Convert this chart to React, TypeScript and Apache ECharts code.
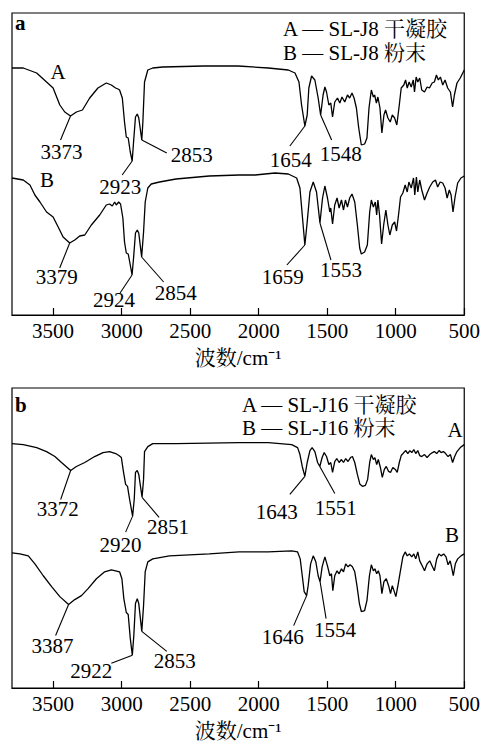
import React, { useEffect, useRef } from "react";
import * as echarts from "echarts";

// Wavenumber (cm-1) vs transmittance (arbitrary units, each panel 0-302)
const J8_GEL: [number, number][] = [[3800,247],[3718,247],[3620,242],[3548,233],[3500,227],[3451,210],[3415,203],[3373,199],[3330,203],[3286,205],[3233,217],[3173,227],[3112,232],[3075,230],[3044,227],[3027,226],[3015,225],[2995,217],[2979,193],[2966,178],[2952,177],[2937,163],[2923,154],[2913,173],[2899,198],[2886,201],[2875,197],[2853,175],[2845,193],[2833,233],[2809,245],[2773,247],[2700,248],[2400,249],[2150,249],[1930,247],[1784,245],[1735,242],[1706,233],[1687,210],[1663,189],[1646,200],[1634,227],[1614,239],[1590,235],[1566,217],[1548,200],[1530,220],[1517,228],[1505,223],[1488,210],[1474,212],[1461,198],[1445,213],[1425,217],[1408,212],[1392,218],[1372,213],[1352,220],[1336,217],[1319,222],[1304,217],[1287,207],[1270,187],[1251,170],[1227,171],[1210,177],[1195,207],[1178,225],[1163,218],[1154,220],[1141,212],[1130,218],[1115,207],[1101,182],[1086,200],[1074,205],[1057,197],[1040,193],[1025,200],[1008,197],[992,190],[974,210],[960,227],[941,230],[928,235],[916,227],[902,233],[887,228],[872,235],[863,223],[851,238],[839,233],[825,237],[810,225],[790,223],[771,228],[754,227],[734,232],[718,233],[703,240],[689,235],[674,238],[657,230],[640,235],[621,227],[601,223],[585,208],[572,220],[553,232],[529,237],[500,245]];

const J8_POWDER: [number, number][] = [[3800,137],[3718,135],[3669,130],[3633,120],[3596,113],[3548,103],[3500,98],[3463,88],[3427,78],[3379,72],[3342,75],[3306,79],[3269,80],[3221,90],[3160,100],[3112,110],[3088,111],[3068,109],[3051,113],[3039,110],[3022,113],[3008,111],[2991,97],[2979,73],[2966,62],[2952,61],[2937,50],[2924,40],[2913,57],[2899,82],[2886,85],[2875,82],[2854,58],[2840,83],[2828,113],[2809,127],[2784,131],[2724,133],[2603,136],[2361,139],[2143,140],[2026,140],[1881,142],[1784,141],[1723,137],[1699,127],[1682,100],[1663,70],[1646,93],[1626,123],[1602,133],[1578,123],[1561,102],[1553,92],[1534,117],[1517,129],[1498,117],[1481,103],[1474,107],[1461,91],[1445,110],[1428,117],[1413,107],[1396,115],[1381,105],[1367,115],[1352,108],[1336,117],[1319,121],[1299,113],[1280,90],[1263,67],[1251,61],[1227,63],[1207,70],[1190,103],[1178,115],[1163,108],[1149,113],[1139,100],[1130,115],[1118,100],[1103,71],[1088,90],[1072,105],[1057,90],[1043,80],[1025,90],[1008,93],[994,84],[977,103],[965,118],[948,122],[931,130],[916,123],[904,133],[887,127],[870,137],[861,120],[849,138],[839,123],[825,135],[810,125],[790,115],[771,122],[752,128],[730,133],[710,135],[694,128],[676,133],[657,132],[640,127],[625,117],[609,125],[596,120],[582,103],[567,118],[548,132],[524,137],[500,139]];

const J16_GEL: [number, number][] = [[3800,246],[3718,245],[3620,242],[3548,238],[3487,233],[3439,227],[3372,219],[3330,223],[3269,227],[3197,233],[3136,237],[3088,238],[3044,236],[3020,234],[3002,232],[2986,217],[2971,205],[2957,203],[2942,190],[2920,173],[2908,190],[2899,217],[2886,219],[2875,215],[2851,192],[2840,210],[2833,238],[2809,243],[2773,246],[2603,246],[2143,247],[1930,247],[1759,245],[1716,242],[1699,235],[1682,223],[1663,213],[1646,227],[1626,239],[1610,242],[1590,238],[1570,227],[1554,223],[1537,232],[1522,237],[1505,233],[1488,225],[1474,227],[1461,217],[1445,228],[1430,231],[1413,227],[1396,230],[1381,227],[1365,231],[1348,228],[1330,232],[1316,233],[1299,227],[1280,215],[1261,205],[1243,203],[1221,204],[1205,210],[1190,227],[1178,235],[1163,230],[1152,232],[1139,225],[1127,230],[1112,222],[1098,212],[1083,220],[1069,223],[1052,218],[1038,217],[1021,222],[1003,220],[989,217],[974,227],[960,234],[941,237],[926,239],[912,236],[897,239],[883,237],[868,240],[854,236],[839,239],[825,234],[810,233],[790,235],[771,232],[752,235],[732,237],[718,238],[701,236],[684,239],[669,237],[652,238],[636,236],[618,233],[601,235],[585,227],[570,233],[553,238],[529,242],[500,245]];

const J16_POWDER: [number, number][] = [[3800,136],[3742,135],[3681,133],[3633,125],[3572,113],[3511,102],[3451,92],[3387,84],[3342,89],[3293,93],[3245,100],[3184,110],[3124,117],[3075,119],[3044,118],[3015,117],[2998,110],[2984,90],[2966,76],[2952,74],[2937,50],[2922,33],[2911,53],[2899,85],[2886,90],[2875,85],[2853,57],[2840,83],[2828,117],[2809,127],[2773,130],[2651,133],[2361,135],[2143,137],[1930,137],[1759,138],[1716,137],[1697,130],[1682,113],[1668,97],[1650,93],[1639,103],[1621,125],[1602,133],[1583,127],[1566,113],[1552,107],[1537,122],[1517,132],[1498,123],[1481,113],[1469,115],[1459,98],[1445,113],[1428,118],[1413,115],[1396,120],[1381,117],[1365,125],[1348,122],[1333,124],[1316,122],[1299,117],[1283,103],[1265,85],[1251,77],[1227,78],[1210,88],[1192,113],[1178,124],[1163,118],[1152,120],[1139,115],[1127,118],[1115,113],[1101,95],[1086,107],[1069,110],[1052,103],[1038,95],[1025,103],[1013,98],[999,92],[984,103],[967,117],[948,132],[931,137],[916,133],[900,135],[883,132],[868,135],[854,130],[839,137],[825,128],[807,123],[790,118],[771,125],[752,128],[732,122],[718,118],[701,130],[684,135],[669,133],[650,135],[633,132],[618,124],[603,128],[594,123],[580,113],[565,125],[548,130],[524,133],[500,135]];

// Peak labels (cm-1)
const J8_GEL_PEAKS = [3373, 2923, 2853, 1654, 1548];
const J8_POWDER_PEAKS = [3379, 2924, 2854, 1659, 1553];
const J16_GEL_PEAKS = [3372, 2920, 2851, 1643, 1551];
const J16_POWDER_PEAKS = [3387, 2922, 2853, 1646, 1554];

const X_TICKS = { min: 500, max: 3800, interval: 500 };
const X_NAME = "波数/cm⁻¹";
const LEGEND_A = ["A — SL-J8 干凝胶", "B — SL-J8 粉末"];
const LEGEND_B = ["A — SL-J16 干凝胶", "B — SL-J16 粉末"];

// Layout of leader lines: [endDx, endDy, labelDx, labelDy] relative to peak pixel
const LEADERS: number[][][] = [
  [[-10, 24, -9, 36], [-10, 14, -12, 26], [25, 13, 50, 15], [-15, 20, -14, 34], [11, 25, 20, 39]],
  [[-10, 25, -13, 34], [-12, 18, -18, 25], [22, 25, 34, 36], [-18, 20, -22, 32], [11, 37, 21, 47]],
  [[-10, 29, -13, 39], [-7, 16, -12, 29], [17, 20, 26, 30], [-15, 18, -28, 36], [15, 27, 16, 42]],
  [[-13, 31, -16, 41], [-21, 8, -41, 16], [25, 20, 33, 30], [-13, 30, -24, 41], [6, 37, 15, 48]],
];

const SERIF = "'Liberation Serif', 'Times New Roman', 'Noto Serif CJK SC', 'Noto Sans CJK SC', serif";
const FS = 21;

function findPeak(data: [number, number][], wn: number): [number, number] {
  let best: [number, number] = data[0];
  let bestV = Infinity;
  for (const p of data) {
    if (Math.abs(p[0] - wn) <= 25 && p[1] < bestV) {
      bestV = p[1];
      best = p;
    }
  }
  return best;
}

export default function App() {
  const ref = useRef<HTMLDivElement>(null);
  useEffect(() => {
    const chart = echarts.init(ref.current!, null, { renderer: "svg" });
    const grids = [0, 1].map((i) => ({
      left: 12,
      top: i === 0 ? 13 : 388,
      width: 454,
      height: 302,
      show: true,
      borderColor: "#000",
      borderWidth: 1.2,
    }));
    const xAxes = [0, 1].map((i) => ({
      type: "value",
      gridIndex: i,
      min: X_TICKS.min,
      max: X_TICKS.max,
      interval: X_TICKS.interval,
      inverse: true,
      axisLine: { show: true, lineStyle: { color: "#000", width: 1.2 } },
      axisTick: { show: true, inside: true, length: 7, lineStyle: { color: "#000", width: 1.2 } },
      axisLabel: {
        color: "#000",
        fontSize: FS,
        fontFamily: SERIF,
        margin: 5,
        showMaxLabel: false,
        formatter: (v: number) => String(v),
      },
      splitLine: { show: false },
      name: X_NAME,
      nameLocation: "middle",
      nameGap: 32,
      nameTextStyle: { color: "#000", fontSize: FS, fontFamily: SERIF },
    }));
    const yAxes = [0, 1].map((i) => ({
      type: "value",
      gridIndex: i,
      min: 0,
      max: 302,
      show: false,
    }));
    const curves = [J8_GEL, J8_POWDER, J16_GEL, J16_POWDER];
    const series = curves.map((d, k) => ({
      type: "line",
      xAxisIndex: k < 2 ? 0 : 1,
      yAxisIndex: k < 2 ? 0 : 1,
      data: d,
      showSymbol: false,
      symbol: "none",
      lineStyle: { color: "#000", width: 1.3 },
      silent: true,
    }));
    chart.setOption({
      animation: false,
      backgroundColor: "#fff",
      grid: grids,
      xAxis: xAxes,
      yAxis: yAxes,
      series,
    });

    const peaks = [J8_GEL_PEAKS, J8_POWDER_PEAKS, J16_GEL_PEAKS, J16_POWDER_PEAKS];
    const graphics: any[] = [];
    const txt = (text: string, x: number, y: number, align = "center", weight = "normal") => ({
      type: "text",
      x,
      y,
      silent: true,
      style: {
        text,
        fill: "#000",
        fontSize: FS,
        fontFamily: SERIF,
        fontWeight: weight,
        align,
        verticalAlign: "middle",
      },
    });
    peaks.forEach((list, k) => {
      const g = k < 2 ? 0 : 1;
      list.forEach((wn, j) => {
        const p = findPeak(curves[k], wn);
        const [px, py] = chart.convertToPixel({ gridIndex: g }, p) as number[];
        const L = LEADERS[k][j];
        graphics.push({
          type: "line",
          silent: true,
          shape: { x1: px, y1: py, x2: px + L[0], y2: py + L[1] },
          style: { stroke: "#000", lineWidth: 1.1 },
        });
        graphics.push(txt(String(wn), px + L[2], py + L[3]));
      });
    });
    // panel letters, curve letters, legends
    graphics.push(txt("a", 15, 23, "left", "bold"));
    graphics.push(txt("b", 15, 405, "left", "bold"));
    graphics.push(txt("A", 58, 72));
    graphics.push(txt("B", 47, 180));
    graphics.push(txt("A", 455, 430));
    graphics.push(txt("B", 452, 535));
    graphics.push(txt(LEGEND_A[0], 283, 29, "left"));
    graphics.push(txt(LEGEND_A[1], 283, 53, "left"));
    graphics.push(txt(LEGEND_B[0], 242, 405, "left"));
    graphics.push(txt(LEGEND_B[1], 242, 428, "left"));
    chart.setOption({ graphic: graphics });

    return () => chart.dispose();
  }, []);
  return (
    <div
      ref={ref}
      style={{ position: "absolute", left: 0, top: 0, width: 483, height: 742, background: "#fff" }}
    />
  );
}
